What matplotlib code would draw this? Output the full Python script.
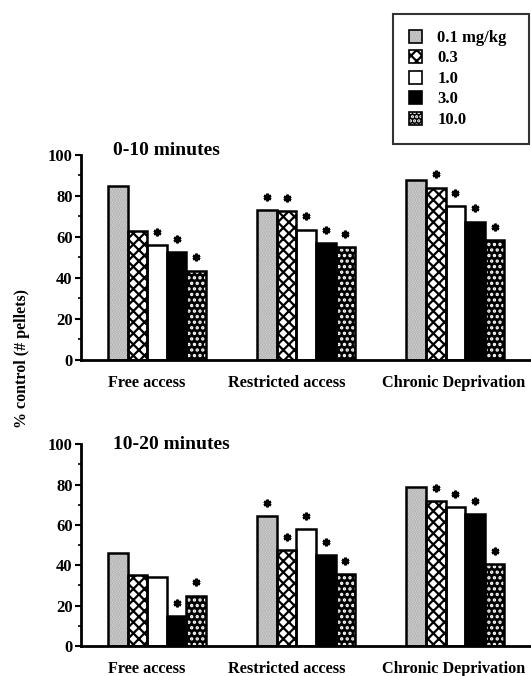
import matplotlib
matplotlib.use("Agg")
import matplotlib.pyplot as plt
from matplotlib.patches import Patch
from matplotlib.legend_handler import HandlerTuple
import numpy as np

plt.rcParams['font.family'] = ['Liberation Serif', 'DejaVu Serif']
plt.rcParams['font.weight'] = 'bold'
plt.rcParams['hatch.linewidth'] = 1.6

# Data
conditions = ["Free access", "Restricted access", "Chronic Deprivation"]
doses = ["0.1 mg/kg", "0.3", "1.0", "3.0", "10.0"]

early = {  # 0-10 minutes, % control
    "0.1 mg/kg": [85, 73, 88],
    "0.3": [63, 72.5, 84],
    "1.0": [56, 63.5, 75],
    "3.0": [52.5, 57, 67.5],
    "10.0": [43.5, 55, 58.5],
}
late = {  # 10-20 minutes, % control
    "0.1 mg/kg": [46, 64.5, 79],
    "0.3": [35, 47.5, 72],
    "1.0": [34, 58, 69],
    "3.0": [15, 45, 65.5],
    "10.0": [25, 35.5, 40.5],
}
# significance markers (True = asterisk above bar)
early_sig = {
    "0.1 mg/kg": [False, True, False],
    "0.3": [False, True, True],
    "1.0": [True, True, True],
    "3.0": [True, True, True],
    "10.0": [True, True, True],
}
late_sig = {
    "0.1 mg/kg": [False, True, False],
    "0.3": [False, True, True],
    "1.0": [False, True, True],
    "3.0": [True, True, True],
    "10.0": [True, True, True],
}
panel_titles = ["0-10 minutes", "10-20 minutes"]
yticks = [0, 20, 40, 60, 80, 100]

# fill styles: (facecolor, hatch, hatch colour)
styles = {
    "0.1 mg/kg": ("#dadada", "......", "#ababab"),
    "0.3": ("white", "xxx", "black"),
    "1.0": ("white", None, "black"),
    "3.0": ("black", None, "black"),
    "10.0": ("black", "...", "white"),
}

fig = plt.figure(figsize=(5.31, 6.76), dpi=100)
ax_top = fig.add_axes([0.1525, 0.4675, 0.8456, 0.3033])
ax_bot = fig.add_axes([0.1525, 0.0444, 0.8456, 0.2984])

x = np.arange(len(conditions))
width = 0.1315
offsets = (np.arange(len(doses)) - 2) * width


def draw_panel(ax, data, sig, title, title_y):
    for i, d in enumerate(doses):
        fc, hatch, hc = styles[d]
        xs = x + offsets[i]
        ax.bar(xs, data[d], width, color=fc, edgecolor=hc, hatch=hatch,
               linewidth=0, zorder=2)
        ax.bar(xs, data[d], width, fill=False, edgecolor="black",
               linewidth=1.8, zorder=3)
        for xi, v, s in zip(xs, data[d], sig[d]):
            if s:
                ax.plot(xi, v + 6.5, marker=(6, 2, 0), ms=5.5, mew=1.8,
                        color="black", zorder=4)
    ax.set_xlim(-0.51, 2.50)
    ax.set_ylim(0, 100)
    for sp in ("top", "right"):
        ax.spines[sp].set_visible(False)
    for sp in ("left", "bottom"):
        ax.spines[sp].set_linewidth(2.0)
    ax.set_yticks(yticks)
    ax.set_yticks(np.arange(10, 100, 10), minor=True)
    ax.tick_params(axis="y", which="major", length=4, width=1.5,
                   labelsize=12, pad=2)
    ax.tick_params(axis="y", which="minor", length=2, width=1.2)
    ax.set_xticks([-0.07, 0.87, 1.99])
    ax.set_xticklabels(conditions, fontsize=11.7, fontweight="bold")
    ax.tick_params(axis="x", length=0, pad=11)
    ax.text(-0.297, title_y, title, fontsize=14, fontweight="bold",
            ha="left", va="center")
    ax.patch.set_visible(False)


draw_panel(ax_top, early, early_sig, panel_titles[0], 102)
draw_panel(ax_bot, late, late_sig, panel_titles[1], 100)

fig.text(0.042, 1 - 359 / 676, "% control (# pellets)", rotation=90,
         fontsize=11.5, fontweight="bold", ha="center", va="center")

# legend swatches: textured fill underneath a black outline
legend_hatch = {"10.0": "....", "0.1 mg/kg": "......"}
handles = []
for d in doses:
    fc, hatch, hc = styles[d]
    fill = Patch(facecolor=fc, edgecolor=hc,
                 hatch=legend_hatch.get(d, hatch), linewidth=0)
    outline = Patch(fill=False, edgecolor="black", linewidth=1.2)
    handles.append((fill, outline))

leg = fig.legend(handles, doses, loc="upper left", mode="expand",
                 bbox_to_anchor=(393 / 531, 1 - 143 / 676,
                                 (529 - 393) / 531, (143 - 14) / 676),
                 handler_map={tuple: HandlerTuple(ndivide=1, pad=0)},
                 fontsize=12, frameon=True, fancybox=False,
                 edgecolor="black", handlelength=0.8, handleheight=0.8,
                 handletextpad=0.9, labelspacing=0.26, borderpad=0.95,
                 borderaxespad=0)
leg.get_frame().set_linewidth(1.5)

fig.savefig("out.png", dpi=100)
